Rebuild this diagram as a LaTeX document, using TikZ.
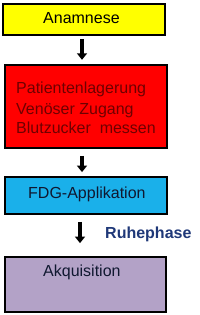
\documentclass[tikz,border=0pt]{standalone}
\usepackage{fontspec}
\setmainfont{Liberation Sans}
\usetikzlibrary{arrows.meta}
\definecolor{cyel}{RGB}{255,255,0}
\definecolor{cred}{RGB}{255,0,0}
\definecolor{cblue}{RGB}{26,176,234}
\definecolor{cpurp}{RGB}{179,162,199}
\definecolor{tred}{RGB}{110,0,0}
\definecolor{tnavy}{RGB}{16,24,48}
\definecolor{tblue}{RGB}{31,56,120}
\tikzset{
  box/.style={draw=black, line width=1.8pt, rectangle, inner sep=0pt},
  lbl/.style={anchor=base west, inner sep=0pt, font=\fontsize{16}{19.5}\selectfont},
  arr/.style={line width=4pt, -{Triangle[width=10pt,length=6.5pt]}}
}
\begin{document}
\begin{tikzpicture}[x=1pt,y=1pt]
\useasboundingbox (0,0) rectangle (200,-315);
% boxes
\node[box, fill=cyel, minimum width=162pt, minimum height=31pt] (b1) at (84,-19.5) {};
\node[box, fill=cred, minimum width=162pt, minimum height=83pt] (b2) at (86,-106.5) {};
\node[box, fill=cblue, minimum width=162pt, minimum height=37pt] (b3) at (86,-195.5) {};
\node[box, fill=cpurp, minimum width=161pt, minimum height=55pt] (b4) at (85.5,-284.5) {};
% texts
\node[lbl] (t1) at (43,-24) {Anamnese};
\node[lbl, text=tred] (t2a) at (16,-94) {Patientenlagerung};
\node[lbl, text=tred] (t2b) at (16,-114) {Venöser Zugang};
\node[lbl, text=tred] (t2c) at (16,-133.5) {Blutzucker\ \ messen};
\node[lbl, text=tnavy] (t3) at (28,-198.5) {FDG-Applikation};
\node[lbl, text=tnavy] (t4) at (43,-276) {Akquisition};
\node[lbl, text=tblue, font=\fontsize{16}{19.5}\selectfont\bfseries] (t5) at (105,-238.5) {Ruhephase};
% arrows
\coordinate (ax1) at (82,0);
\coordinate (ax3) at (80,0);
\draw[arr, shorten <=3pt, shorten >=4.3pt] (b1.south -| ax1) -- (b2.north -| ax1);
\draw[arr, shorten <=7pt, shorten >=4pt] (b2.south -| ax1) -- (b3.north -| ax1);
\draw[arr, shorten <=7pt, shorten >=13pt] (b3.south -| ax3) -- (b4.north -| ax3);
\end{tikzpicture}
\end{document}
